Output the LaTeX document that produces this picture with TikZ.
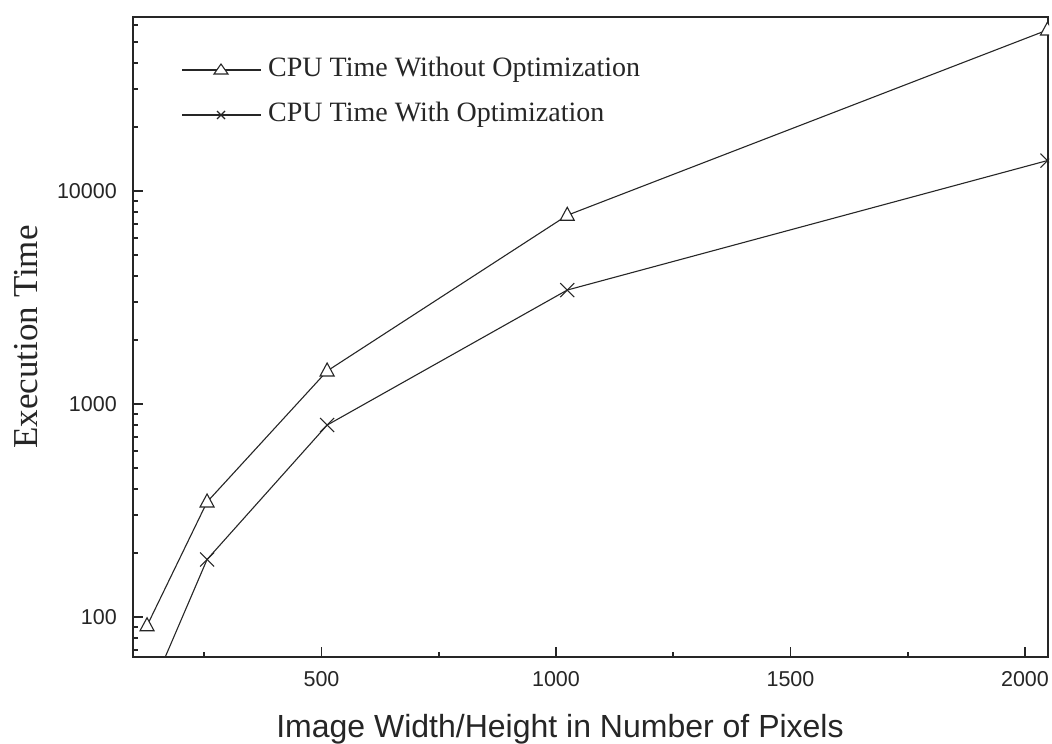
\documentclass[tikz,border=0pt]{standalone}
\usepackage{fontspec}
\setmainfont{Liberation Serif}
\newfontfamily\arialf{Liberation Sans}
\begin{document}
\begin{tikzpicture}[x=1pt,y=-1pt,
  declare function={px(\v)=87+0.469*\v; py(\l)=404-213*(\l-3);},
  axisline/.style={line width=1.8pt,black!85},
  ticklab/.style={font=\arialf\fontsize{21.5}{21.5}\selectfont,text=black!85,inner sep=0pt},
  dataline/.style={line width=1.1pt,black!85},
  legtext/.style={font=\fontsize{28}{28}\selectfont,text=black!85,anchor=west,inner sep=0pt},
  trimark/.style={line width=1.1pt,black!85,fill=white},
  xmark/.style={line width=1.1pt,black!85}]
\useasboundingbox (0,0) rectangle (1052,744);
\fill[white] (0,0) rectangle (1052,744);

% axis corners
\coordinate (bl) at (133,657);
\coordinate (br) at (1048,657);
\coordinate (tl) at (133,17);
\coordinate (tr) at (1048,17);

% data points (y given as log10 of value)
\coordinate (a1) at ({px(128)},{py(1.959)});
\coordinate (a2) at ({px(256)},{py(2.540)});
\coordinate (a3) at ({px(512)},{py(3.155)});
\coordinate (a4) at ({px(1024)},{py(3.886)});
\coordinate (a5) at ({px(2048)},{py(4.756)});
\coordinate (b1) at ({px(128)},{py(1.613)});
\coordinate (b2) at ({px(256)},{py(2.270)});
\coordinate (b3) at ({px(512)},{py(2.901)});
\coordinate (b4) at ({px(1024)},{py(3.535)});
\coordinate (b5) at ({px(2048)},{py(4.143)});

% axes box
\draw[axisline] (bl) -- (br) -- (tr) -- (tl) -- cycle;

% x ticks
\foreach \v in {500,1000,1500,2000}{
  \draw[axisline] ({px(\v)},657) -- ({px(\v)},647);
  \node[ticklab] at ({px(\v)},679) {\v};
}
\foreach \v in {250,750,1250,1750}{
  \draw[axisline] ({px(\v)},657) -- ({px(\v)},652);
}
% y ticks
\foreach \e/\lab in {2/100,3/1000,4/10000}{
  \draw[axisline] (133,{py(\e)}) -- (143,{py(\e)});
  \node[ticklab,anchor=east] at (117,{py(\e)}) {\lab};
}
\foreach \e/\m in {1/7,1/8,1/9,2/2,2/3,2/4,2/5,2/6,2/7,2/8,2/9,3/2,3/3,3/4,3/5,3/6,3/7,3/8,3/9,4/2,4/3,4/4,4/5,4/6}{
  \draw[axisline] (133,{py(\e+log10(\m))}) -- (138,{py(\e+log10(\m))});
}

% data lines and markers
\begin{scope}
  \clip (133,17) rectangle (1049,657);
  \draw[dataline] (a1) -- (a2) -- (a3) -- (a4) -- (a5);
  \draw[dataline] (b1) -- (b2) -- (b3) -- (b4) -- (b5);
  \foreach \p in {a1,a2,a3,a4,a5}{
    \draw[trimark] (\p) +(0,-8) -- +(7,5) -- +(-7,5) -- cycle;
  }
  \foreach \p in {b2,b3,b4,b5}{
    \draw[xmark] (\p) +(-7,-7) -- +(7,7) (\p) +(-7,7) -- +(7,-7);
  }
\end{scope}

% legend
\coordinate (l1s) at (182,70);
\coordinate (l1m) at (221,70);
\coordinate (l1e) at (261,70);
\coordinate (l2s) at (182,115);
\coordinate (l2m) at (221,115);
\coordinate (l2e) at (261,115);
\draw[dataline] (l1s) -- (l1e);
\draw[trimark] (l1m) +(0,-6) -- +(7,4) -- +(-7,4) -- cycle;
\draw[dataline] (l2s) -- (l2e);
\draw[xmark] (l2m) +(-4,-4) -- +(4,4) (l2m) +(-4,4) -- +(4,-4);
\node[legtext] (leg1) at (268,70) {CPU Time Without Optimization};
\node[legtext] (leg2) at (268,115) {CPU Time With Optimization};

% axis titles
\node[font=\arialf\fontsize{32}{32}\selectfont,text=black!85,anchor=base] (xtitle) at (560,737) {Image Width/Height in Number of Pixels};
\node[font=\fontsize{35}{35}\selectfont,text=black!85,rotate=90] (ytitle) at (26,337) {Execution Time};
\end{tikzpicture}
\end{document}
